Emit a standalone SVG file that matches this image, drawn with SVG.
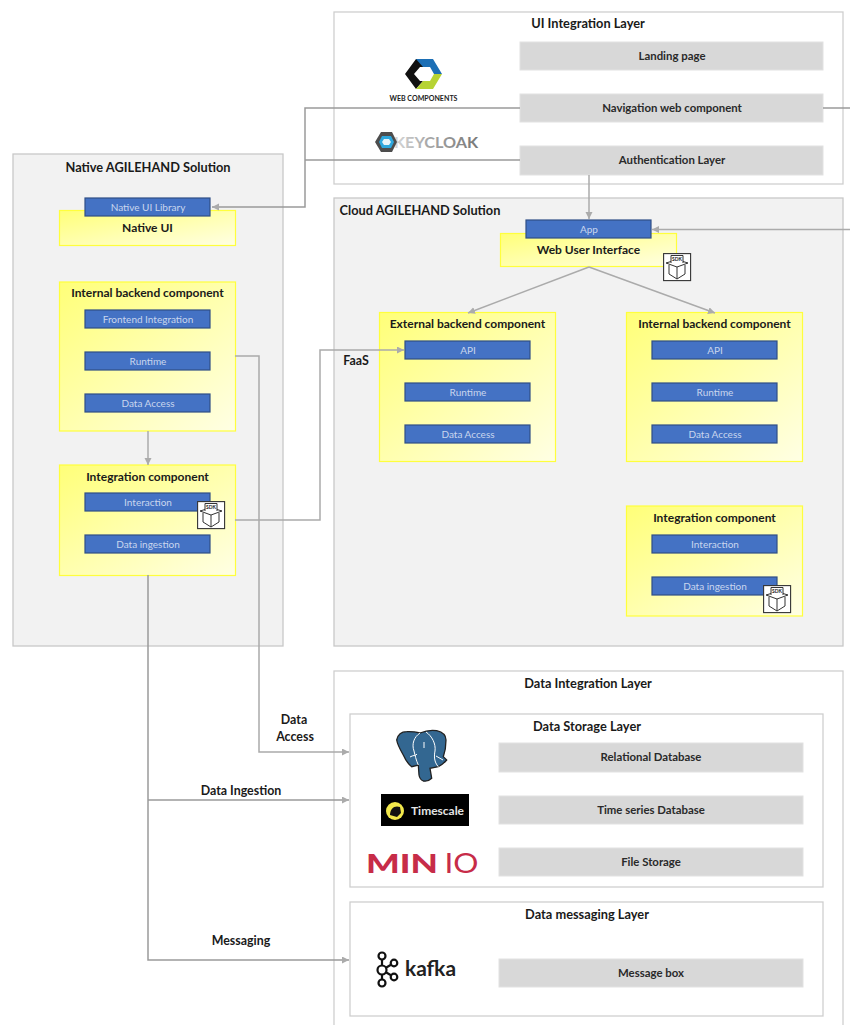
<svg xmlns="http://www.w3.org/2000/svg" xmlns:xlink="http://www.w3.org/1999/xlink" width="850" height="1025" viewBox="0 0 850 1025">
<style>
text{font-family:Lato,"Liberation Sans",Arial,sans-serif;text-anchor:middle;fill:#1a1a1a}
.layer{fill:#fff;stroke:#cfcfcf;stroke-width:1.3}
.sol{fill:#f2f2f2;stroke:#c8c8c8;stroke-width:1.3}
.grey{fill:#d8d8d8;stroke:#e2e2e2;stroke-width:1}
.yel{fill:url(#yg);stroke:#ffff3c;stroke-width:1.2}
.blue{fill:#4472c4;stroke:#2f4f86;stroke-width:1.2}
.t{font-size:12.800px;font-weight:bold}
.g{font-size:11.400px;font-weight:bold;fill:#2a2a2a}
.b{font-size:10px;fill:#c9d6ee}
.y{font-size:12px;font-weight:bold}
.l{font-size:12.400px;font-weight:bold}
.c{fill:none;stroke:#ababab;stroke-width:1.5}
.d{fill:none;stroke:#9a9a9a;stroke-width:1.5}
</style>
<defs>
<linearGradient id="yg" x1="0" y1="0" x2="1" y2="1"><stop offset="0" stop-color="#ffff78"/><stop offset="1" stop-color="#ffffe4"/></linearGradient>
<linearGradient id="kc" x1="0" y1="0" x2="1" y2="0"><stop offset="0" stop-color="#d8d8d8"/><stop offset="0.4" stop-color="#a8a8a8"/><stop offset="1" stop-color="#777"/></linearGradient>
<marker id="a" markerWidth="9" markerHeight="8" refX="7" refY="3.500" orient="auto" markerUnits="userSpaceOnUse"><path d="M0,0L7,3.500L0,7z" fill="#ababab"/></marker>
<g id="sdk">
<rect x="0.6" y="0.6" width="27" height="27" fill="#fff" stroke="#333" stroke-width="1.1"/>
<path d="M8,10V2.500H20V10M3,10L8,8.500M25,10L20,8.500M3,10L14,14L25,10M6,12V21L14,26L22,21V12M14,14V26" fill="none" stroke="#333" stroke-width="1"/>
<text x="14" y="7.500" style="font-size:5px;font-weight:bold">SDK</text>
</g>
</defs>
<rect width="850" height="1025" fill="#fff"/>

<g id="ui-layer">
<rect class="layer" x="334" y="12" width="509" height="172"/>
<text class="t" x="588" y="28">UI Integration Layer</text>
</g>
<g id="landing-page"><rect class="grey" x="520" y="42" width="303" height="28"/><text class="g" x="672" y="60">Landing page</text></g>
<g id="navigation"><rect class="grey" x="520" y="94" width="303" height="28"/><text class="g" x="672" y="112">Navigation web component</text></g>
<g id="authentication"><rect class="grey" x="520" y="146" width="303" height="29"/><text class="g" x="672" y="164">Authentication Layer</text></g>
<g id="logo-webcomponents">
<path d="M416,59H431L423,67H420L414,74L420,81H423L416,89L405,74z" fill="#111"/>
<path d="M416,59H433L442,74H434L430,67H423z" fill="#1c6fb5"/>
<path d="M442,74L433,89H416L423,81H430L434,74z" fill="#b6d334"/>
<text x="423.500" y="101" textLength="68" lengthAdjust="spacingAndGlyphs" style="font-size:7.500px;font-weight:bold;fill:#222">WEB COMPONENTS</text>
</g>
<g id="logo-keycloak">
<text x="436" y="148" textLength="84" lengthAdjust="spacingAndGlyphs" style="font-size:15px;font-weight:bold;fill:url(#kc)">KEYCLOAK</text>
<path d="M381,132H392L397,142L392,152H381L375,142z" fill="#4d4d4d"/>
<path d="M382,136H391L394,142L391,148H382L379,142z" fill="#2ea7dd"/>
<path d="M384,139H389L391,142L389,145H384L382,142z" fill="#e8f4fa"/>
</g>

<g id="native-solution">
<rect class="sol" x="13" y="154" width="270" height="492"/>
<text class="t" x="148" y="172">Native AGILEHAND Solution</text>
</g>
<g id="cloud-solution">
<rect class="sol" x="334" y="198" width="509" height="448"/>
<text class="t" x="420" y="215">Cloud  AGILEHAND Solution</text>
</g>

<g id="native-ui">
<rect class="yel" x="59.500" y="210.500" width="176" height="35"/>
<text class="y" x="147.500" y="232">Native UI</text>
<rect class="blue" x="85" y="198" width="125" height="18"/>
<text class="b" x="148" y="211">Native UI Library</text>
</g>
<g id="native-internal">
<rect class="yel" x="59.500" y="282" width="176" height="149"/>
<text class="y" x="147.500" y="297">Internal backend component</text>
<rect class="blue" x="85" y="310" width="125" height="18"/><text class="b" x="148" y="323">Frontend Integration</text>
<rect class="blue" x="85" y="352" width="125" height="18"/><text class="b" x="148" y="365">Runtime</text>
<rect class="blue" x="85" y="394" width="125" height="18"/><text class="b" x="148" y="407">Data Access</text>
</g>
<g id="native-integration">
<rect class="yel" x="59.500" y="465" width="176" height="110.500"/>
<text class="y" x="147.500" y="481">Integration component</text>
<rect class="blue" x="85" y="493" width="125" height="18"/><text class="b" x="148" y="506">Interaction</text>
<rect class="blue" x="85" y="535" width="125" height="18"/><text class="b" x="148" y="548">Data ingestion</text>
<use xlink:href="#sdk" href="#sdk" x="197" y="501"/>
</g>

<g id="web-ui">
<rect class="yel" x="500.500" y="233.500" width="176" height="33"/>
<text class="y" x="588.500" y="254">Web User Interface</text>
<rect class="blue" x="526" y="220" width="125" height="18"/><text class="b" x="589" y="233">App</text>
<use xlink:href="#sdk" href="#sdk" x="663" y="253"/>
</g>
<g id="external-backend">
<rect class="yel" x="379.500" y="312.500" width="176" height="149"/>
<text class="y" x="467.500" y="328">External backend component</text>
<rect class="blue" x="405" y="341" width="125" height="18"/><text class="b" x="468" y="354">API</text>
<rect class="blue" x="405" y="383" width="125" height="18"/><text class="b" x="468" y="396">Runtime</text>
<rect class="blue" x="405" y="425" width="125" height="18"/><text class="b" x="468" y="438">Data Access</text>
</g>
<g id="cloud-internal">
<rect class="yel" x="626.500" y="312.500" width="176" height="149"/>
<text class="y" x="714.500" y="328">Internal backend component</text>
<rect class="blue" x="652" y="341" width="125" height="18"/><text class="b" x="715" y="354">API</text>
<rect class="blue" x="652" y="383" width="125" height="18"/><text class="b" x="715" y="396">Runtime</text>
<rect class="blue" x="652" y="425" width="125" height="18"/><text class="b" x="715" y="438">Data Access</text>
</g>
<g id="cloud-integration">
<rect class="yel" x="626.500" y="506" width="176" height="110"/>
<text class="y" x="714.500" y="522">Integration component</text>
<rect class="blue" x="652" y="535" width="125" height="18"/><text class="b" x="715" y="548">Interaction</text>
<rect class="blue" x="652" y="577" width="125" height="18"/><text class="b" x="715" y="590">Data ingestion</text>
<use xlink:href="#sdk" href="#sdk" x="763" y="585"/>
</g>

<g id="data-layer">
<rect class="layer" x="334" y="671" width="509" height="370"/>
<text class="t" x="588" y="688">Data Integration Layer</text>
</g>
<g id="data-storage">
<rect class="layer" x="350" y="714" width="473" height="173"/>
<text class="t" x="587" y="731">Data Storage Layer</text>
<rect class="grey" x="499" y="743" width="304" height="29"/><text class="g" x="651" y="761">Relational Database</text>
<rect class="grey" x="499" y="796" width="304" height="28"/><text class="g" x="651" y="814">Time series Database</text>
<rect class="grey" x="499" y="848" width="304" height="28"/><text class="g" x="651" y="866">File Storage</text>
</g>
<g id="data-messaging">
<rect class="layer" x="350" y="902" width="473" height="114"/>
<text class="t" x="587" y="919">Data messaging Layer</text>
<rect class="grey" x="499" y="959" width="304" height="28"/><text class="g" x="651" y="977">Message box</text>
</g>
<g id="logo-postgres">
<path d="M396.700,740C398,734 402,731.700 406.700,731.700C411,731.500 416,732 420,733C426,730.500 432,730 436.700,730.700C442,732 446,735 446,740C446,746 445,752 443.300,756.700L446.700,760C444,763 441,765.500 438.300,766.700L430,768.300L431.700,778.300C429,781 426,781.500 423.300,781C421,780 419.500,778 419,775L418.300,765L411.700,766.700C408,764 405.500,760 403.300,755C400.500,750 397.500,745 396.700,740z" fill="#336791" stroke="#222" stroke-width="1.300"/>
<path d="M420,733C414,737 411.500,744 414,751C415,755 416,760 418.300,765M426,732C432,736 436,744 435,751C434,756 434,762 438.300,766.700M410,757C413,755 416,756 417,754M436,756L443,760M424,742V748" fill="none" stroke="#fff" stroke-width="1"/>
</g>
<g id="logo-timescale">
<rect x="381" y="794" width="88" height="32" fill="#000"/>
<circle cx="395" cy="811" r="9" fill="#f2e84b"/>
<path d="M390,815C390,808 395,805 400,807L401,813L397,817z" fill="#111"/>
<text x="437.500" y="815" textLength="53" lengthAdjust="spacingAndGlyphs" style="font-size:12px;font-weight:bold;fill:#e4e4e4">Timescale</text>
</g>
<g id="logo-minio">
<text x="402" y="873" textLength="72" lengthAdjust="spacingAndGlyphs" style="font-size:27px;font-weight:900;fill:#c72c48">MIN</text>
<text x="461.500" y="873" textLength="34" lengthAdjust="spacingAndGlyphs" style="font-size:27px;font-weight:400;fill:#c72c48">IO</text>
</g>
<g id="logo-kafka">
<g fill="#fff" stroke="#111" stroke-width="2.200">
<path d="M382,958V981M382,970L394,963M382,970L394,977" fill="none"/>
<circle cx="382" cy="956" r="3.500"/><circle cx="382" cy="970" r="4.500"/><circle cx="382" cy="983" r="3.500"/><circle cx="394" cy="963" r="3.300"/><circle cx="394" cy="977" r="3.300"/>
</g>
<text x="430.500" y="976" textLength="51" lengthAdjust="spacingAndGlyphs" style="font-size:20px;font-weight:bold;fill:#222">kafka</text>
</g>

<g id="connectors">
<path class="d" d="M520,108H305V207H212" marker-end="url(#a)"/>
<path class="d" d="M520,160H305"/>
<path class="d" d="M823,108H850"/>
<path class="c" d="M589,175V219" marker-end="url(#a)"/>
<path class="c" d="M850,229.500H652" marker-end="url(#a)"/>
<path class="c" d="M589,267L468,313" marker-end="url(#a)"/>
<path class="c" d="M589,267L715,313" marker-end="url(#a)"/>
<path class="c" d="M148,431V465" marker-end="url(#a)"/>
<path class="c" d="M235,356H259V752H349" marker-end="url(#a)"/>
<path class="c" d="M235,520H320V350H404" marker-end="url(#a)"/>
<path class="d" d="M148,575V960H349" marker-end="url(#a)"/>
<path class="d" d="M148,800H349" marker-end="url(#a)"/>
</g>
<g id="connector-labels">
<text class="l" x="356" y="365">FaaS</text>
<text class="l" x="294" y="724">Data</text>
<text class="l" x="295" y="741">Access</text>
<text class="l" x="241" y="795">Data Ingestion</text>
<text class="l" x="241" y="945">Messaging</text>
</g>
</svg>
